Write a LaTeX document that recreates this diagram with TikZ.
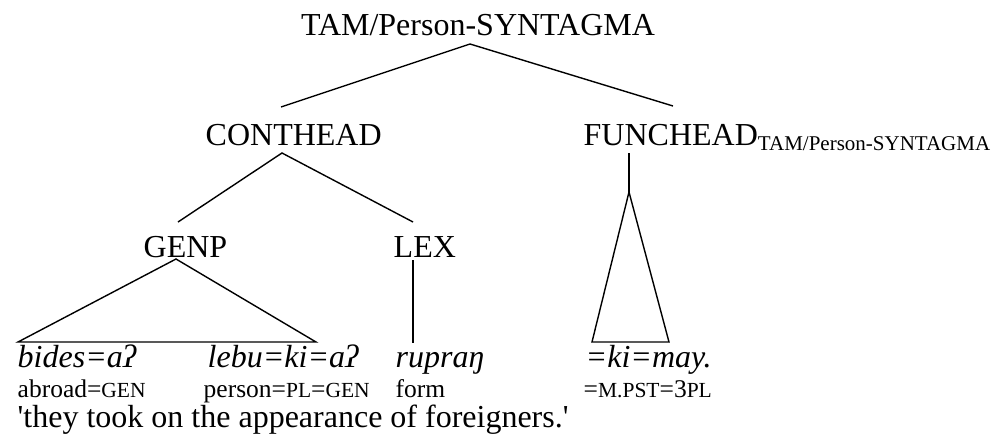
\documentclass[tikz,border=0pt]{standalone}
\usepackage{fontspec}
\setmainfont{Liberation Serif}
\newcommand\smcap[1]{{\fontsize{21.5}{24}\selectfont #1}}
\begin{document}
\begin{tikzpicture}[x=1pt,y=-1pt,line width=1.4pt,
  lbl/.style={inner sep=0pt,anchor=base west,font=\fontsize{32}{38}\selectfont},
  itx/.style={inner sep=0pt,anchor=base west,font=\fontsize{32}{38}\selectfont\itshape},
  glx/.style={inner sep=0pt,anchor=base west,font=\fontsize{25.5}{30}\selectfont}]
\useasboundingbox (0,0) rectangle (999,442);
% labels
\node[lbl,anchor=base] (root) at (478,35) {TAM/Person-SYNTAGMA};
\node[lbl] (cont) at (205,145) {CONTHEAD};
\node[lbl] (func) at (583,145) {FUNCHEAD\raisebox{-5pt}{\fontsize{21}{24}\selectfont TAM/Person-SYNTAGMA}};
\node[lbl] (genp) at (143,257) {GENP};
\node[lbl] (lex) at (393,257) {LEX};
% words
\node[itx] (w1) at (17,367) {bides=aʔ};
\node[itx] (w2) at (207,367) {lebu=ki=aʔ};
\node[itx] (w3) at (395,367) {rupraŋ};
\node[itx] (w4) at (585,367) {=ki=may.};
% glosses
\node[glx] (g1) at (17,397) {abroad=\smcap{GEN}};
\node[glx] (g2) at (203,397) {person=\smcap{PL}=\smcap{GEN}};
\node[glx] (g3) at (395,397) {form};
\node[glx] (g4) at (583,397) {=\smcap{M.PST}=3\smcap{PL}};
\node[lbl] (tr) at (17,427) {\textquotesingle they took on the appearance of foreigners.\textquotesingle};
% junction points
\coordinate (rootB) at (470,44);
\coordinate (contT) at (281,107);
\coordinate (funcT) at (673,106);
\coordinate (contB) at (282,153);
\coordinate (genpT) at (178,222);
\coordinate (lexT) at (413,222);
\coordinate (genpB) at (176,259);
\coordinate (triL) at (18,342);
\coordinate (triR) at (316,342);
\coordinate (lexB) at (413,260);
\coordinate (lexW) at (413,343);
\coordinate (funcB) at (629,153);
\coordinate (tri2T) at (629,192);
\coordinate (tri2L) at (592,342);
\coordinate (tri2R) at (669,342);
% branches
\draw (contT) -- (rootB) -- (funcT);
\draw (genpT) -- (contB) -- (lexT);
\draw[line join=miter] (genpB) -- (triL) -- (triR) -- cycle;
\draw (lexB) -- (lexW);
\draw (funcB) -- (tri2T);
\draw[line join=miter] (tri2T) -- (tri2L) -- (tri2R) -- cycle;
\end{tikzpicture}
\end{document}
